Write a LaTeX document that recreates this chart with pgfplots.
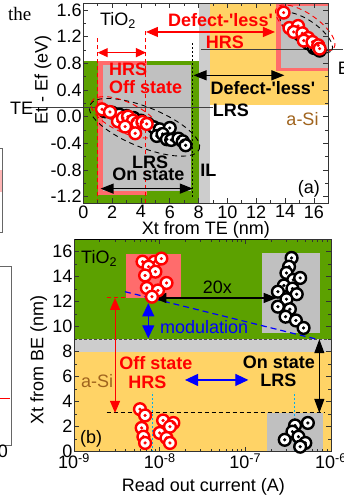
\documentclass[border=0pt]{standalone}
\usepackage{pgfplots}
\pgfplotsset{compat=1.18}
\usepackage{pgfplotstable}
\usepackage{fontspec}
\setmainfont{Liberation Sans}
\newfontfamily\seriffont{Liberation Serif}
\usetikzlibrary{arrows.meta,shapes.geometric}

\definecolor{tgreen}{RGB}{92,161,0}
\definecolor{ayellow}{RGB}{255,211,102}
\definecolor{ilgray}{RGB}{205,205,205}
\definecolor{dgray}{RGB}{192,192,192}
\definecolor{pinkr}{RGB}{255,108,108}
\definecolor{brownsi}{RGB}{160,100,30}

% panel (a): black (LRS) near TE
\pgfplotstableread{
x y
1.5 0.08
2.0 0.06
2.5 0.03
3.0 0.01
3.5 -0.02
4.0 -0.06
4.5 -0.11
4.9 -0.16
5.3 -0.19
6.0 -0.17
5.1 -0.29
5.5 -0.26
5.8 -0.34
6.1 -0.35
6.6 -0.33
6.9 -0.37
7.1 -0.43
}\aKte
% panel (a): red (HRS) near TE
\pgfplotstableread{
x y
1.3 0.11
1.85 0.07
2.4 -0.07
2.75 -0.02
3.1 0.0
3.45 -0.06
3.75 -0.1
4.1 -0.08
4.4 -0.11
3.6 -0.25
2.9 -0.15
}\aRte
% panel (a): black near BE
\pgfplotstableread{
x y
14.6 1.30
15.2 1.20
15.6 1.10
16.0 1.03
16.4 0.99
16.2 1.02
}\aKbe
% panel (a): red near BE
\pgfplotstableread{
x y
13.9 1.56
14.3 1.33
14.9 1.36
14.6 1.27
15.2 1.25
15.6 1.18
15.3 1.14
15.9 1.12
16.3 1.07
16.4 1.02
}\aRbe
% panel (b): log10(current) and Xt from BE
\pgfplotstableread{
x y
-8.20 15.2
-8.06 15.2
-7.98 15.45
-8.13 14.8
-8.05 14.4
-8.17 14.1
-7.92 13.5
-8.15 13.1
-8.02 12.9
-8.09 12.4
}\bRt
\pgfplotstableread{
x y
-6.46 15.5
-6.49 14.8
-6.52 14.3
-6.44 13.75
-6.36 13.9
-6.55 13.3
-6.45 13.05
-6.62 12.8
-6.40 12.6
-6.52 12.2
-6.62 11.6
-6.48 11.4
-6.53 10.8
-6.41 10.5
-6.32 9.9
}\bKt
\pgfplotstableread{
x y
-8.23 3.4
-8.17 2.9
-8.21 1.9
-8.19 1.2
-8.17 0.7
-7.96 2.5
-7.84 2.3
-7.88 2.0
-8.00 1.5
-7.92 1.1
-7.88 0.7
}\bRa
\pgfplotstableread{
x y
-6.27 2.3
-6.42 2.1
-6.45 1.6
-6.38 1.2
-6.54 0.95
-6.30 0.7
-6.36 0.4
}\bKa

\pgfplotsset{
  myax/.style={scale only axis, axis on top, clip=false, tick align=inside,
    major tick length=5pt, minor tick length=3pt,
    axis line style={line width=0.8pt, black!80},
    every tick/.style={line width=0.7pt, black!80},
    tick label style={font=\fontsize{18}{21}\selectfont},
    yticklabel style={inner xsep=1.5pt},
    xticklabel style={inner ysep=2pt}},
  cmark/.style={only marks, mark=*, mark size=5.9pt,
    mark options={fill=white, draw=#1, line width=2.4pt}},
  cdot/.style={only marks, mark=*, mark size=1.4pt,
    mark options={fill=#1, draw=#1}},
}
\tikzset{
  arrR/.style={red, line width=1.2pt, {Triangle[length=10pt,width=9pt]}-{Triangle[length=10pt,width=9pt]}},
  arrK/.style={black, line width=1.2pt, {Triangle[length=13pt,width=10pt]}-{Triangle[length=13pt,width=10pt]}},
  arrB/.style={blue, line width=1.2pt, {Triangle[length=13pt,width=12pt]}-{Triangle[length=13pt,width=12pt]}},
  ell/.style={draw=#1, line width=0.9pt, dash pattern=on 5pt off 4pt, ellipse, inner sep=0pt, fill=none},
  bf/.style={font=\fontsize{18}{21}\selectfont\bfseries},
}
\newcommand{\q}{\textquotesingle}

\begin{document}%
\fontsize{18}{21}\selectfont%
\begin{tikzpicture}[x=1pt,y=1pt,font=\fontsize{18}{21}\selectfont]
\path[use as bounding box] (0,0) rectangle (344,496);

% ---------------- panel (a)
\begin{scope}[xshift=83.3pt,yshift=292.7pt]
\begin{axis}[myax, at={(0pt,0pt)}, anchor=south west,
  width=245pt, height=200pt,
  xmin=0, xmax=17, ymin=-1.3, ymax=1.7,
  xtick={0,2,4,6,8,10,12,14,16},
  xticklabels={0,2,4,6,8,10,12,14,16},
  minor xtick={1,3,5,7,9,11,13,15},
  ytick={-1.2,-0.8,-0.4,0,0.4,0.8,1.2,1.6},
  yticklabels={-1.2,-0.8,-0.4,0.0,0.4,0.8,1.2,1.6},
  minor ytick={-1.0,-0.6,-0.2,0.2,0.6,1.0,1.4}]
\fill[tgreen] (0,-1.3) rectangle (8,0.83);
\fill[ilgray] (8,-1.3) rectangle (8.8,1.7);
\fill[ayellow] (8.8,0.18) rectangle (17,1.7);
\fill[pinkr] (1.0,-1.18) rectangle (4.4,0.83);
\fill[dgray] (1.35,-1.12) rectangle (7.5,0.78);
\fill[pinkr] (13.4,0.68) rectangle (17,1.7);
\fill[dgray] (13.75,0.73) rectangle (17,1.66);

\draw[red, line width=1pt, dash pattern=on 4pt off 3pt] (1.0,-1.3) -- (1.0,1.22);
\draw[red, line width=1pt, dash pattern=on 4pt off 3pt] (4.35,-1.3) -- (4.35,1.3);
\draw[black, line width=1.2pt, dash pattern=on 2pt off 2pt] (7.6,-1.2) -- (7.6,1.1);
\draw[black!75, line width=1pt] (-3.8,0.135) -- (9.0,0.135);
\draw[black!75, line width=1pt] (8.2,1.01) -- (18.0,1.01);

\addplot[cmark=black] table {\aKte};
\addplot[cdot=black] table {\aKte};
\addplot[cmark=red] table {\aRte};
\addplot[cdot=red] table {\aRte};
\addplot[cmark=black] table {\aKbe};
\addplot[cdot=black] table {\aKbe};
\addplot[cmark=red] table {\aRbe};
\addplot[cdot=red] table {\aRbe};

\node[ell=black, minimum width=118pt, minimum height=40pt, rotate=-22] at (4.25,-0.16) {};
\node[ell=red, minimum width=74pt, minimum height=30pt, rotate=-25] at (2.9,-0.01) {};
\node[ell=black, minimum width=62pt, minimum height=24pt, rotate=-35] at (15.47,1.26) {};
\node[ell=red, minimum width=70pt, minimum height=28pt, rotate=-35] at (15.4,1.33) {};

\draw[arrR] (1.0,0.96) -- (4.35,0.96);
\draw[red, line width=1.2pt, {Triangle[length=12pt,width=10pt]}-{Triangle[length=12pt,width=10pt]}] (4.35,1.27) -- (13.3,1.27);
\draw[arrK] (7.65,0.62) -- (13.95,0.62);
\draw[arrK] (1.2,-1.08) -- (7.6,-1.08);

\node[anchor=base west] at (0.74,1.36) {TiO\textsubscript{2}};
\node[anchor=base, red, bf] at (9.52,1.345) {Defect-\q less\q};
\node[anchor=base, red, bf] at (9.83,1.02) {HRS};
\node[anchor=base west, red, bf] at (1.37,0.61) {HRS};
\node[anchor=base west, red, bf] at (1.37,0.35) {Off state};
\node[anchor=base, bf] at (12.46,0.335) {Defect-\q less\q};
\node[anchor=base, bf] at (10.24,0.0) {LRS};
\node[anchor=base, bf] at (4.63,-0.78) {LRS};
\node[anchor=base, bf] at (4.51,-0.965) {On state};
\node[anchor=base, bf] at (8.67,-0.9) {IL};
\node[anchor=base, brownsi] at (15.21,-0.14) {a-Si};
\node[anchor=base] at (15.66,-1.15) {(a)};
\end{axis}
\end{scope}

% ---------------- panel (b)
\begin{scope}[xshift=74pt,yshift=44.3pt]
\begin{axis}[myax, at={(0pt,0pt)}, anchor=south west,
  width=257pt, height=212.5pt,
  xmin=-9, xmax=-6, ymin=0, ymax=17,
  xtick={-9,-8,-7,-6},
  xticklabels={10\textsuperscript{-9},10\textsuperscript{-8},10\textsuperscript{-7},10\textsuperscript{-6}},
  minor xtick={-8.699,-8.523,-8.398,-8.301,-8.222,-8.155,-8.097,-8.046,
               -7.699,-7.523,-7.398,-7.301,-7.222,-7.155,-7.097,-7.046,
               -6.699,-6.523,-6.398,-6.301,-6.222,-6.155,-6.097,-6.046},
  ytick={0,2,4,6,8,10,12,14,16},
  yticklabels={0,2,4,6,8,10,12,14,16},
  minor ytick={1,3,5,7,9,11,13,15}]
\fill[ayellow] (-9,0) rectangle (-6,8);
\fill[ilgray] (-9,8) rectangle (-6,9);
\fill[tgreen] (-9,9) rectangle (-6,17);
\fill[pinkr] (-8.393,12.27) rectangle (-7.755,15.82);
\fill[dgray] (-6.809,9.52) rectangle (-6.128,15.92);
\fill[dgray] (-6.751,0) rectangle (-6.09,3.12);

\draw[black!70, line width=0.7pt, dash pattern=on 3pt off 2pt] (-9,9) -- (-6,9);
\draw[black, line width=1pt, dash pattern=on 4pt off 3pt] (-8.618,3.1) -- (-6.07,3.1);
\draw[red, line width=1pt, dash pattern=on 4pt off 3pt] (-8.618,12.3) -- (-8.39,12.3);
\draw[cyan, line width=0.8pt, dash pattern=on 2pt off 2pt] (-8.082,0) -- (-8.082,4.8);
\draw[cyan, line width=0.8pt, dash pattern=on 2pt off 2pt] (-6.432,0) -- (-6.432,4.8);

\addplot[cmark=red] table {\bRt};
\addplot[cdot=red] table {\bRt};
\addplot[cmark=black] table {\bKt};
\addplot[cdot=black] table {\bKt};
\addplot[cmark=red] table {\bRa};
\addplot[cdot=red] table {\bRa};
\addplot[cmark=black] table {\bKa};
\addplot[cdot=black] table {\bKa};

\draw[blue, line width=1.2pt, dash pattern=on 6pt off 4pt] (-8.405,12.8) -- (-6.167,9.0);
\draw[red, line width=1pt, {Triangle[length=12pt,width=10pt]}-{Triangle[length=12pt,width=10pt]}] (-8.521,12.3) -- (-8.521,3.1);
\draw[black, line width=1pt, {Triangle[length=14pt,width=10pt]}-{Triangle[length=14pt,width=10pt]}] (-6.136,9.0) -- (-6.136,3.1);
\draw[arrB] (-8.133,11.87) -- (-8.133,9.07);
\draw[arrK] (-8.074,12.3) -- (-6.634,12.3);
\draw[arrB] (-7.704,5.74) -- (-6.965,5.74);

\node[anchor=base west] at (-8.988,15.07) {TiO\textsubscript{2}};
\node[anchor=base, blue] at (-7.482,9.47) {modulation};
\node[anchor=base] at (-7.325,12.62) {20x};
\node[anchor=base, red, bf] at (-8.045,6.54) {Off state};
\node[anchor=base, red, bf] at (-8.142,5.07) {HRS};
\node[anchor=base, bf] at (-6.607,6.67) {On state};
\node[anchor=base, bf] at (-6.615,5.2) {LRS};
\node[anchor=base west, brownsi] at (-8.988,5.15) {a-Si};
\node[anchor=base] at (-8.80,0.62) {(b)};
\end{axis}
\end{scope}

% ---------------- axis labels and surrounding fragments
\node[rotate=90, anchor=base] at (47.5,416) {Et - Ef (eV)};
\node[anchor=base] at (205.8,261) {Xt from TE (nm)};
\draw[black, line width=0.8pt] (75,257) -- (268,257);
\node[rotate=90, anchor=base] at (43.3,136) {Xt from BE (nm)};
\node[anchor=base] at (203.3,4.3) {Read out current (A)};

\node[anchor=base west, font=\fontsize{19}{22}\selectfont\seriffont] at (2,475.3) {the};
\node[anchor=base west] at (4,381) {TE};
\node[anchor=base west] at (331.7,421) {B};

\fill[pinkr!50] (0,304) rectangle (2.7,326);
\draw[black!60, line width=0.7pt] (0,264) -- (2.7,264) -- (2.7,348) -- (0,348);
\draw[black!60, line width=0.7pt] (0,51) -- (11.7,51) -- (11.7,229.3) -- (0,229.3);
\draw[red, line width=0.8pt] (0,98) -- (10,98);
\node[anchor=base] at (3,38) {0};
\end{tikzpicture}%
\end{document}
